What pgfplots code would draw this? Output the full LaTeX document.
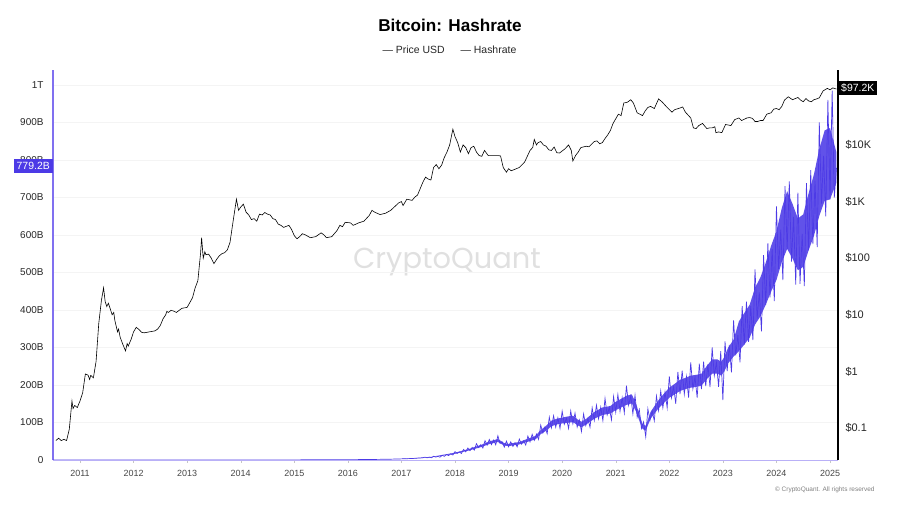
\documentclass[border=0pt]{standalone}
\usepackage{fontspec}
\setmainfont{Liberation Sans}
\newfontfamily\poppins{Poppins}
\usepackage{pgfplots}
\pgfplotsset{compat=1.18}
\definecolor{hash}{RGB}{76,58,230}
\definecolor{hashaxis}{RGB}{128,112,240}
\definecolor{tick}{RGB}{70,70,70}

% hashrate, in B (daily noise)
\pgfplotstableread{
t v
2010.50 0
2012.00 0.02
2013.00 0.03
2014.00 0.1
2015.00 0.35
2016.00 0.8
2016.50 1.5
2016.80 2.2
2017.00 3
2017.20 4
2017.40 6
2017.44 7.6
2017.48 5.8
2017.52 7.8
2017.56 6.1
2017.60 9.9
2017.64 7.7
2017.68 9.6
2017.72 7.6
2017.76 12.5
2017.80 9.7
2017.84 14.6
2017.88 11.9
2017.92 16.4
2017.96 13.3
2018.00 22.3
2018.04 17.5
2018.08 21.6
2018.12 17.3
2018.16 28.3
2018.20 22
2018.24 31.9
2018.28 24.9
2018.32 33.5
2018.36 26.4
2018.40 43.4
2018.44 33.3
2018.48 40.6
2018.52 32
2018.56 51.6
2018.60 39.6
2018.64 54.8
2018.68 41.1
2018.72 53.1
2018.76 40.5
2018.80 64.5
2018.84 44.3
2018.88 48.3
2018.92 34.3
2018.96 50.4
2019.00 35.2
2019.04 48.4
2019.08 36.1
2019.12 46.4
2019.16 35.2
2019.20 55.8
2019.24 42.3
2019.28 51
2019.32 39.8
2019.36 63.6
2019.40 48.4
2019.44 68.4
2019.48 52.5
2019.52 69.1
2019.56 55
2019.60 93
2019.64 72
2019.68 88.4
2019.72 70
2019.76 114
2019.80 86
2019.84 118
2019.88 87.7
2019.92 112.3
2019.96 84
2020.00 130.2
2020.04 95.4
2020.08 111.3
2020.12 84.2
2020.16 130.8
2020.20 96.8
2020.24 125.1
2020.28 87.7
2020.32 106.9
2020.36 76
2020.40 122.8
2020.44 91.8
2020.48 110.2
2020.52 87.4
2020.56 139.2
2020.60 105.6
2020.64 146.3
2020.68 110.1
2020.72 140.9
2020.76 105.2
2020.80 164.3
2020.84 120.2
2020.88 139.9
2020.92 106.9
2020.96 169.2
2021.00 127.6
2021.04 174.6
2021.08 129.9
2021.12 166.3
2021.16 125.6
2021.20 198.4
2021.24 145.8
2021.28 170.6
2021.32 123.2
2021.36 172.8
2021.40 114.4
2021.44 134.5
2021.48 84.3
2021.52 101.5
2021.56 62
2021.60 136.4
2021.64 106.2
2021.68 131
2021.72 104.5
2021.76 170.4
2021.80 132
2021.84 184.1
2021.88 139.3
2021.92 181.4
2021.96 139.2
2022.00 223.2
2022.04 165.6
2022.08 195.5
2022.12 149.8
2022.16 235.2
2022.20 176
2022.24 238.4
2022.28 175.4
2022.32 222.5
2022.36 166.4
2022.40 260.4
2022.44 189.9
2022.48 220.5
2022.52 166.1
2022.56 256.8
2022.60 189.2
2022.64 262
2022.68 196.9
2022.72 254.9
2022.76 194.4
2022.80 300
2022.84 225
2022.88 260
2022.92 195
2022.96 290
2023.00 160
2023.04 316.2
2023.08 237.4
2023.12 306.7
2023.16 233.6
2023.20 372
2023.24 279
2023.28 332.8
2023.32 260.5
2023.36 410.4
2023.40 308
2023.44 422.4
2023.48 314.8
2023.52 410
2023.56 320
2023.60 508
2023.64 378
2023.68 447
2023.72 343
2023.76 546
2023.80 414
2023.84 578
2023.88 434
2023.92 562
2023.96 424
2024.00 676
2024.04 509
2024.08 614
2024.12 480
2024.16 730
2024.20 563
2024.24 743
2024.28 529
2024.32 648
2024.36 468
2024.40 713
2024.44 470
2024.48 603
2024.52 464
2024.56 738
2024.60 559
2024.64 773
2024.68 576
2024.72 745
2024.76 568
2024.80 900
2024.84 684
2024.88 811
2024.92 650
2024.96 960
2025.00 695
2025.04 985
2025.08 700
2025.12 779.2
}\hashtab

% dense core of the hashrate noise, in B: upper edge, then lower edge back
\pgfplotstableread{
t v
2017.00 3.2
2017.50 7
2018.00 19.5
2018.25 29
2018.50 41
2018.65 50
2018.80 56
2018.92 45
2019.00 43
2019.20 48
2019.40 59
2019.50 64
2019.60 80
2019.70 91
2019.80 105
2019.90 110
2020.00 113
2020.10 116
2020.20 118
2020.30 107
2020.36 102
2020.45 110
2020.60 128
2020.75 140
2020.90 144
2021.00 155
2021.10 163
2021.20 171
2021.30 175
2021.38 150
2021.45 118
2021.50 96
2021.56 91
2021.65 128
2021.80 160
2021.90 177
2022.00 193
2022.10 203
2022.20 214
2022.30 219
2022.40 225
2022.50 227
2022.60 230
2022.70 251
2022.80 268
2022.90 268
2022.97 262
2023.02 273
2023.10 300
2023.20 321
2023.30 370
2023.40 392
2023.50 414
2023.60 459
2023.70 487
2023.80 526
2023.90 571
2024.00 610
2024.10 672
2024.20 717
2024.30 683
2024.40 644
2024.50 655
2024.60 711
2024.70 762
2024.80 829
2024.90 879
2025.00 885
2025.12 820
2025.12 740
2025.00 695
2024.90 691
2024.80 651
2024.70 598
2024.60 559
2024.50 515
2024.40 506
2024.30 537
2024.20 563
2024.10 528
2024.00 480
2023.90 449
2023.80 414
2023.70 383
2023.60 361
2023.50 326
2023.40 308
2023.30 290
2023.20 276
2023.10 258
2023.02 235
2022.97 225
2022.90 230
2022.80 230
2022.70 216
2022.60 198
2022.50 195
2022.40 193
2022.30 189
2022.20 184
2022.10 175
2022.00 166
2021.90 152
2021.80 138
2021.65 110
2021.56 78
2021.50 83
2021.45 101
2021.38 129
2021.30 151
2021.20 147
2021.10 140
2021.00 133
2020.90 124
2020.75 120
2020.60 110
2020.45 95
2020.36 87
2020.30 92
2020.20 101
2020.10 99
2020.00 97.5
2019.90 95
2019.80 90
2019.70 78
2019.60 69
2019.50 55
2019.40 50.5
2019.20 41.5
2019.00 37
2018.92 38.5
2018.80 48
2018.65 43
2018.50 35
2018.25 25
2018.00 16.5
2017.50 6
2017.00 2.8
}\bandtab

% price, USD
\pgfplotstableread{
t p
2010.55 0.06
2010.60 0.066
2010.65 0.06
2010.70 0.063
2010.75 0.06
2010.80 0.095
2010.85 0.30
2010.87 0.22
2010.90 0.25
2010.95 0.23
2011.00 0.30
2011.05 0.42
2011.10 0.90
2011.15 0.86
2011.18 0.72
2011.20 0.85
2011.25 0.77
2011.30 1.5
2011.35 7
2011.40 18
2011.44 30
2011.47 17
2011.50 14
2011.53 16
2011.55 14
2011.60 10
2011.63 11
2011.65 8
2011.70 5
2011.72 5.6
2011.75 4
2011.80 3
2011.85 2.3
2011.88 3.1
2011.90 2.8
2011.95 3.6
2012.00 5
2012.05 6
2012.10 5.5
2012.15 4.9
2012.20 4.8
2012.30 5.0
2012.40 5.2
2012.45 5.6
2012.50 6.5
2012.55 8.5
2012.60 10
2012.62 11.5
2012.65 11
2012.70 12
2012.75 11.6
2012.80 11
2012.90 13
2013.00 13.5
2013.10 20
2013.15 30
2013.20 40
2013.25 120
2013.27 230
2013.30 100
2013.33 130
2013.35 115
2013.40 118
2013.45 100
2013.50 80
2013.55 95
2013.60 110
2013.65 120
2013.70 125
2013.75 140
2013.80 190
2013.85 400
2013.92 1100
2013.96 700
2014.00 800
2014.05 900
2014.10 650
2014.15 580
2014.20 480
2014.25 500
2014.30 450
2014.35 600
2014.40 580
2014.45 640
2014.50 600
2014.55 580
2014.60 500
2014.65 480
2014.70 400
2014.75 380
2014.80 350
2014.90 380
2014.95 320
2015.00 250
2015.05 220
2015.10 240
2015.15 270
2015.20 260
2015.30 230
2015.40 240
2015.50 280
2015.55 260
2015.60 230
2015.70 240
2015.80 310
2015.85 380
2015.90 360
2015.95 430
2016.05 420
2016.10 380
2016.20 420
2016.30 450
2016.40 570
2016.45 700
2016.50 650
2016.60 590
2016.70 620
2016.80 700
2016.95 950
2017.00 1000
2017.03 850
2017.10 1100
2017.20 1050
2017.25 1200
2017.30 1300
2017.40 2200
2017.45 2700
2017.50 2500
2017.55 2400
2017.60 4000
2017.65 4500
2017.70 3800
2017.75 4400
2017.80 6000
2017.85 7500
2017.90 10000
2017.96 19000
2018.00 14000
2018.05 11000
2018.10 7500
2018.15 10000
2018.20 9000
2018.25 7000
2018.30 9000
2018.35 9500
2018.40 7500
2018.45 6500
2018.50 6300
2018.55 8000
2018.62 6500
2018.70 6500
2018.80 6500
2018.85 6400
2018.90 4000
2018.96 3300
2019.00 3800
2019.05 3500
2019.20 4000
2019.30 5000
2019.40 8000
2019.45 9000
2019.48 12500
2019.52 10000
2019.55 11000
2019.60 11500
2019.65 10000
2019.70 9500
2019.75 8200
2019.80 8000
2019.85 9200
2019.90 7300
2019.95 7200
2020.05 8500
2020.12 10000
2020.17 8000
2020.20 5200
2020.25 6500
2020.30 7500
2020.35 9000
2020.45 9500
2020.50 9300
2020.60 11500
2020.65 11800
2020.70 10500
2020.75 11000
2020.80 13000
2020.85 15000
2020.90 18000
2020.95 24000
2021.05 35000
2021.10 33000
2021.15 55000
2021.22 57000
2021.28 63000
2021.33 55000
2021.40 37000
2021.45 35000
2021.50 33000
2021.55 40000
2021.60 46000
2021.65 48000
2021.72 44000
2021.80 65000
2021.87 57000
2021.95 47000
2022.05 38000
2022.10 42000
2022.20 45000
2022.25 47000
2022.30 38000
2022.40 30000
2022.45 20000
2022.50 19500
2022.55 22000
2022.62 24000
2022.70 19500
2022.75 20000
2022.80 20000
2022.85 21000
2022.87 16500
2022.92 17000
2022.98 16500
2023.05 23000
2023.15 22000
2023.22 28000
2023.30 30000
2023.35 27000
2023.45 30000
2023.50 30500
2023.55 29500
2023.60 26000
2023.65 26000
2023.70 27000
2023.75 27000
2023.82 35000
2023.90 37000
2023.95 43000
2024.00 44000
2024.05 42000
2024.10 48000
2024.15 62000
2024.22 71000
2024.30 63000
2024.35 66000
2024.40 69000
2024.45 62000
2024.50 58000
2024.55 66000
2024.60 60000
2024.65 58000
2024.70 63000
2024.75 65000
2024.80 68000
2024.87 90000
2024.95 100000
2025.00 94000
2025.05 102000
2025.12 97200
}\pricetab

\begin{document}
\begin{tikzpicture}
\useasboundingbox (0,0) rectangle (900bp,506bp);

\node[font=\bfseries\fontsize{17.2}{20}\selectfont] at (450bp,481bp) {Bitcoin: Hashrate};
\node[anchor=west, font=\fontsize{10.5}{12}\selectfont, text=black!85] at (379bp,456bp) {— Price USD};
\node[anchor=west, font=\fontsize{10.5}{12}\selectfont, text=black!85] at (457bp,456bp) {— Hashrate};
\node[text=gray!24, font=\poppins\fontsize{29}{34}\selectfont] at (447bp,244bp) {CryptoQuant};
\node[anchor=east, text=gray, font=\fontsize{6.5}{8}\selectfont] at (878bp,16bp) {© CryptoQuant. All rights reserved};

\begin{axis}[
  at={(53bp,46bp)}, anchor=south west,
  scale only axis, width=785bp, height=390bp,
  xmin=2010.496, xmax=2025.149,
  ymin=0, ymax=1040,
  axis x line*=bottom, axis y line*=left,
  axis line style={-},
  x axis line style={hashaxis!55, line width=0.8pt},
  y axis line style={hashaxis, line width=1.2pt},
  xtick={2011,2012,2013,2014,2015,2016,2017,2018,2019,2020,2021,2022,2023,2024,2025},
  xticklabels={2011,2012,2013,2014,2015,2016,2017,2018,2019,2020,2021,2022,2023,2024,2025},
  ytick={0,100,200,300,400,500,600,700,800,900,1000},
  yticklabels={0,100B,200B,300B,400B,500B,600B,700B,800B,900B,1T},
  /pgf/number format/assume math mode=true,
  tick align=outside,
  major tick length=3bp,
  xtick style={gray!45},
  ytick style={draw=none},
  xticklabel style={font=\fontsize{9}{10}\selectfont, text=tick, yshift=-4bp},
  yticklabel style={font=\fontsize{10}{12}\selectfont, text=black!85, xshift=-3bp},
  ymajorgrids, grid style={gray!9, line width=0.5pt},
]
\addplot[fill=hash!88, draw=none] table[x=t, y=v] {\bandtab};
\addplot[hash, line width=0.7pt] table[x=t, y=v] {\hashtab};
\end{axis}

\begin{axis}[
  at={(53bp,46bp)}, anchor=south west,
  scale only axis, width=785bp, height=390bp,
  xmin=2010.496, xmax=2025.149,
  ymode=log, ymin=0.0272, ymax=211000,
  axis x line=none, axis y line*=right,
  axis line style={-},
  y axis line style={black, line width=1.2pt},
  ytick={0.1,1,10,100,1000,10000},
  yticklabels={\$0.1,\$1,\$10,\$100,\$1K,\$10K},
  ytick style={draw=none},
  yticklabel style={font=\fontsize{11}{13}\selectfont, text=black!85, anchor=west, xshift=4bp},
]
\addplot[black, line width=0.6pt] table[x=t, y=p] {\pricetab};
\end{axis}

\node[fill=hash, text=white, anchor=east, inner xsep=3bp, inner ysep=3bp, font=\fontsize{10.5}{12}\selectfont] at (53bp,340bp) {779.2B};
\node[fill=black, text=white, anchor=west, inner xsep=3bp, inner ysep=3bp, font=\fontsize{10.5}{12}\selectfont] at (838bp,418bp) {\$97.2K};
\end{tikzpicture}
\end{document}
